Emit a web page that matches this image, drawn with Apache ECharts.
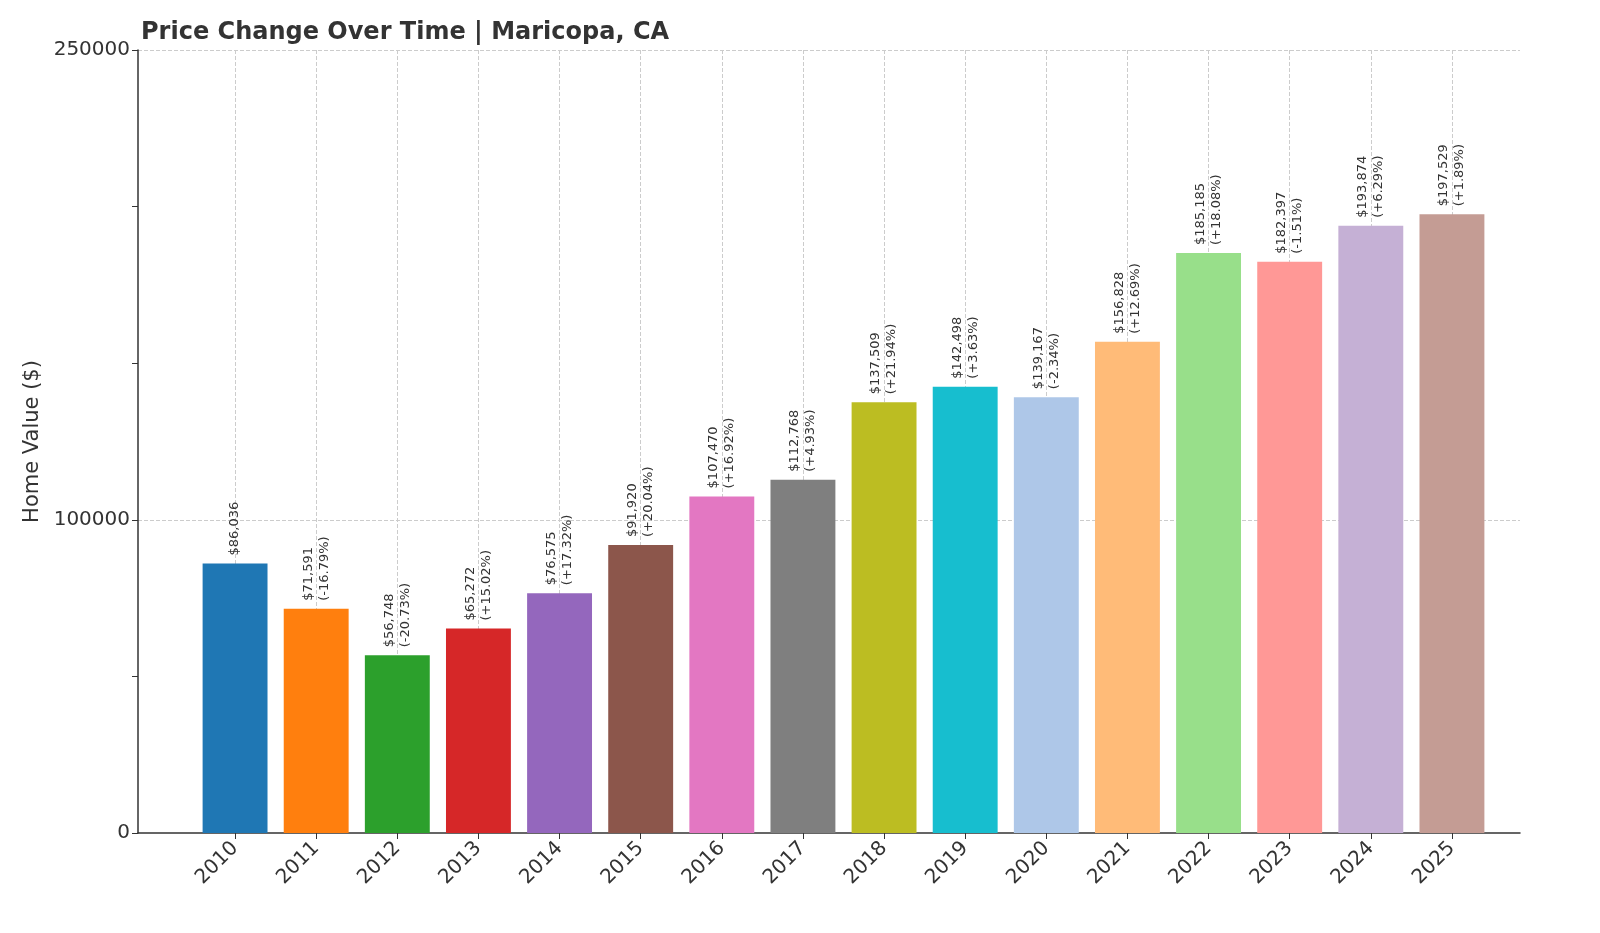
<!DOCTYPE html>
<html>
<head>
<meta charset="utf-8">
<script src="https://cdn.jsdelivr.net/npm/echarts@6/dist/echarts.min.js"></script>
<style>html,body{margin:0;padding:0;background:#fff}#report{width:1600px;height:933px}</style>
</head>
<body>
<div id="report"></div>
<script>
var years = ['2010','2011','2012','2013','2014','2015','2016','2017','2018','2019','2020','2021','2022','2023','2024','2025'];
var values = [86036,71591,56748,65272,76575,91920,107470,112768,137509,142498,139167,156828,185185,182397,193874,197529];
var changes = ['','-16.79%','-20.73%','+15.02%','+17.32%','+20.04%','+16.92%','+4.93%','+21.94%','+3.63%','-2.34%','+12.69%','+18.08%','-1.51%','+6.29%','+1.89%'];
var colors = ['#1f77b4','#ff7f0e','#2ca02c','#d62728','#9467bd','#8c564b','#e377c2','#7f7f7f','#bcbd22','#17becf','#aec7e8','#ffbb78','#98df8a','#ff9896','#c5b0d5','#c49c94'];
var yTicks = [0,100000,250000];

var myChart = echarts.init(document.getElementById('report'));
var font = 'DejaVu Sans';
var option = {
    textStyle: {fontFamily: font},
    title: {
        text: 'Price Change Over Time | Maricopa, CA',
        left: 136, top: 16,
        textStyle: {fontSize: 24, fontWeight: 'bold', color: '#333', fontFamily: font}
    },
    grid: [
        {left: 138, right: 80, top: 50, bottom: 100},
        {left: 194.5, width: 1298, top: 50, bottom: 100},
        {left: 235, width: 1217, top: 50, bottom: 100}
    ],
    xAxis: [
        {gridIndex: 0, type: 'value', min: 0, max: 1, axisLine: {show: true, lineStyle: {color: '#333', width: 1.5}},
         axisLabel: {show: false}, axisTick: {show: false}, splitLine: {show: false}},
        {gridIndex: 1, type: 'category', data: years, axisLine: {show: false},
         axisTick: {show: true, alignWithLabel: true, length: 6, lineStyle: {color: '#333'}},
         axisLabel: {rotate: 45, fontSize: 20, color: '#333', margin: 12},
         splitLine: {show: false}},
        {gridIndex: 2, type: 'category', data: years, boundaryGap: false, axisLine: {show: false},
         axisTick: {show: false}, axisLabel: {show: false},
         splitLine: {show: true, interval: 0, lineStyle: {type: 'dashed', color: '#ccc'}}}
    ],
    yAxis: [
        {gridIndex: 0, type: 'value', min: 0, max: 250000, interval: 50000,
         name: 'Home Value ($)', nameLocation: 'middle', nameGap: 95,
         nameTextStyle: {fontSize: 21, color: '#333'},
         axisLine: {show: true, lineStyle: {color: '#333', width: 1.5}},
         axisTick: {show: true, lineStyle: {color: '#333'}, length: 6, interval: function (i, v) { return yTicks.indexOf(+v) >= 0; }},
         axisLabel: {fontSize: 20, color: '#333', formatter: function (v) { return yTicks.indexOf(v) >= 0 ? String(v) : ''; }},
         splitLine: {show: true, lineStyle: {type: 'dashed', color: ['transparent','transparent','#ccc','transparent','transparent','#ccc']}}},
        {gridIndex: 1, type: 'value', min: 0, max: 250000, show: false},
        {gridIndex: 2, type: 'value', min: 0, max: 250000, show: false}
    ],
    series: [{
        type: 'bar',
        xAxisIndex: 1, yAxisIndex: 1,
        barWidth: '80%',
        z: 3,
        data: values.map(function (v, i) { return {value: v, itemStyle: {color: colors[i]}}; }),
        label: {
            show: true, position: 'top', rotate: 90, align: 'left', verticalAlign: 'middle', distance: 8,
            fontSize: 13, color: '#333', lineHeight: 16,
            formatter: function (p) {
                var s = '$' + values[p.dataIndex].toLocaleString('en-US');
                return changes[p.dataIndex] ? s + '\n(' + changes[p.dataIndex] + ')' : s;
            }
        }
    }]
};
myChart.setOption(option);
</script>
</body>
</html>
